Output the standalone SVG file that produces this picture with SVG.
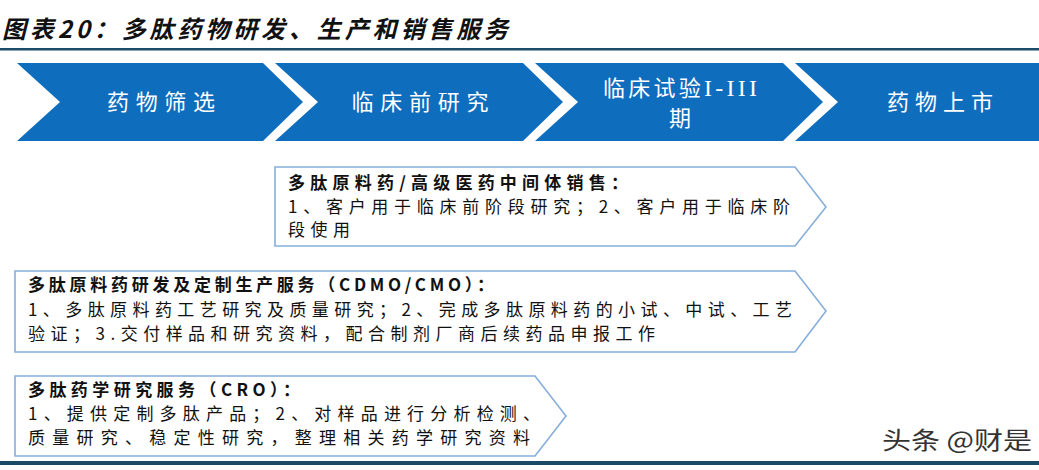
<svg xmlns="http://www.w3.org/2000/svg" width="1039" height="470" viewBox="0 0 1039 470">
<style>
.chev{fill:#0F6DBE}
.ct{font-family:"Noto Sans CJK SC","Liberation Serif",serif;font-size:22px;fill:#ffffff;text-anchor:middle}
.lat{font-family:"Liberation Serif",serif;font-size:24px}
.box{fill:#ffffff;stroke:#86AEDA;stroke-width:1.6}
.bt{font-family:"Noto Sans CJK SC","Liberation Sans",sans-serif;font-size:17px;fill:#111111}
.bh{font-weight:bold}
.title{font-family:"Noto Sans CJK SC","Liberation Sans",sans-serif;font-size:24px;font-weight:bold;font-style:italic;fill:#111111}
.wm{font-family:"Noto Sans CJK SC","Liberation Sans",sans-serif;font-size:24px;fill:#333333}
</style>
<rect width="1039" height="470" fill="#ffffff"/>
<g id="title">
<text class="title" x="2" y="38" textLength="506" lengthAdjust="spacing">图表20：多肽药物研发、生产和销售服务</text>
<rect x="0" y="48" width="1039" height="2.5" fill="#1E4D6B"/>
</g>
<g id="stage1">
<polygon class="chev" points="17,63 263,63 303,102 263,141 17,141 60,102"/>
<text class="ct" x="161" y="110" textLength="108" lengthAdjust="spacing">药物筛选</text>
</g>
<g id="stage2">
<polygon class="chev" points="275,63 523,63 563,102 523,141 275,141 318,102"/>
<text class="ct" x="420" y="110" textLength="137" lengthAdjust="spacing">临床前研究</text>
</g>
<g id="stage3">
<polygon class="chev" points="535,63 783,63 823,102 783,141 535,141 578,102"/>
<text class="ct" x="680" y="96" textLength="154" lengthAdjust="spacing">临床试验<tspan class="lat">I-III</tspan></text>
<text class="ct" x="680" y="126">期</text>
</g>
<g id="stage4">
<polygon class="chev" points="795,63 1039,63 1039,141 795,141 838,102"/>
<text class="ct" x="940" y="110" textLength="106" lengthAdjust="spacing">药物上市</text>
</g>
<g id="connectors"></g>
<g id="box-sales">
<polygon class="box" points="275,167 795,167 826,207 795,246 275,246"/>
<text class="bt bh" x="288" y="189" textLength="340" lengthAdjust="spacing">多肽原料药/高级医药中间体销售：</text>
<text class="bt" x="288" y="213" textLength="502" lengthAdjust="spacing">1、客户用于临床前阶段研究；2、客户用于临床阶</text>
<text class="bt" x="288" y="236" textLength="62" lengthAdjust="spacing">段使用</text>
</g>
<g id="box-cdmo">
<polygon class="box" points="15,271 795,271 826,311 795,352 15,352"/>
<text class="bt bh" x="28" y="291" textLength="466" lengthAdjust="spacing">多肽原料药研发及定制生产服务（CDMO/CMO）：</text>
<text class="bt" x="28" y="316" textLength="764" lengthAdjust="spacing">1、多肽原料药工艺研究及质量研究；2、完成多肽原料药的小试、中试、工艺</text>
<text class="bt" x="28" y="340" textLength="627" lengthAdjust="spacing">验证；3.交付样品和研究资料，配合制剂厂商后续药品申报工作</text>
</g>
<g id="box-cro">
<polygon class="box" points="15,376 535,376 566,416 535,456 15,456"/>
<text class="bt bh" x="28" y="396" textLength="272" lengthAdjust="spacing">多肽药学研究服务（CRO）：</text>
<text class="bt" x="28" y="420" textLength="512" lengthAdjust="spacing">1、提供定制多肽产品；2、对样品进行分析检测、</text>
<text class="bt" x="28" y="444" textLength="502" lengthAdjust="spacing">质量研究、稳定性研究，整理相关药学研究资料</text>
</g>
<text class="wm" x="882" y="449" textLength="150" lengthAdjust="spacingAndGlyphs">头条 @财是</text>
<rect x="0" y="461" width="1039" height="4" fill="#1B4A66"/>
</svg>
